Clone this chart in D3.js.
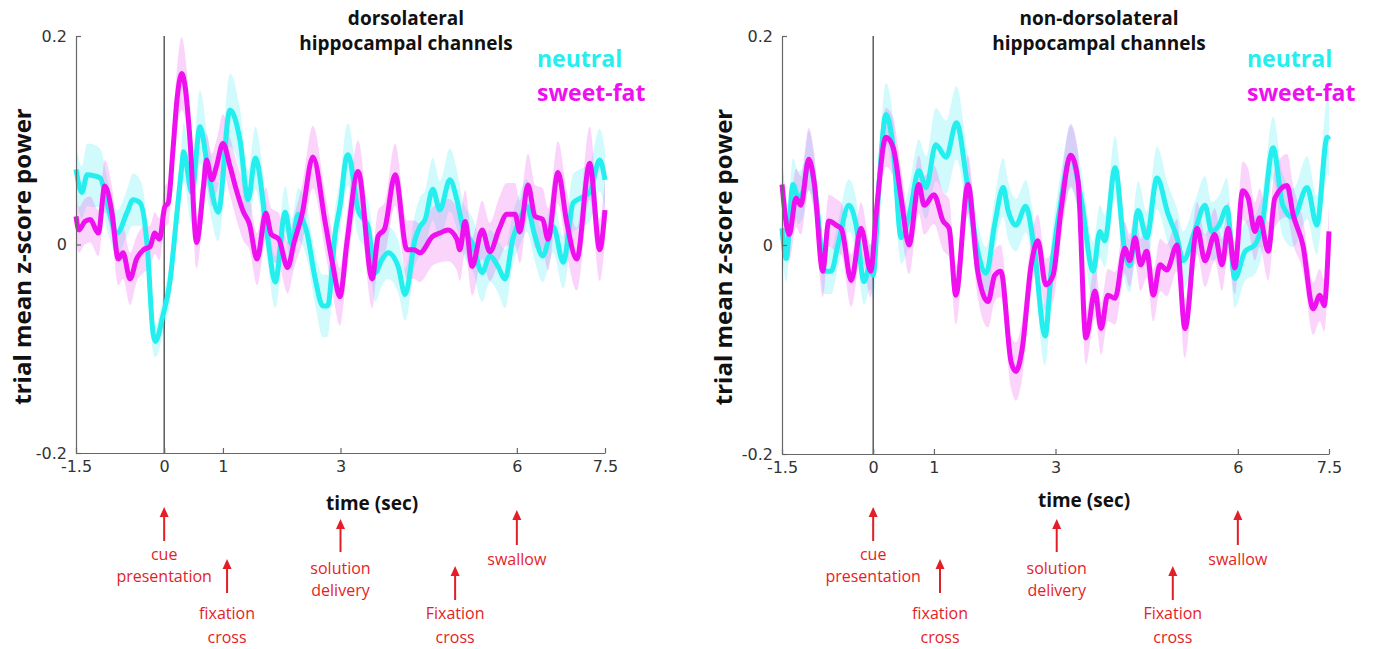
<!DOCTYPE html>
<html><head><meta charset="utf-8">
<script src="https://cdn.jsdelivr.net/npm/d3@7"></script>
<style>body{margin:0;background:#fff;} svg{display:block;}</style>
</head><body>
<svg id="chart" width="1377" height="649"></svg>
<script>
// ---------- data ----------
const xTickValues = [-1.5, 0, 1, 3, 6, 7.5];
const xTickLabels = ["-1.5", "0", "1", "3", "6", "7.5"];
const yTickValues = [-0.2, 0, 0.2];
const yTickLabels = ["-0.2", "0", "0.2"];
const seriesNames = ["neutral", "sweet-fat"];
const panelTitles = [["dorsolateral", "hippocampal channels"], ["non-dorsolateral", "hippocampal channels"]];
const yAxisLabel = "trial mean z-score power";
const xAxisLabel = "time (sec)";
const eventLabels = [["cue", "presentation"], ["fixation", "cross"], ["solution", "delivery"], ["Fixation", "cross"], ["swallow"]];
const eventTimesLeft = [0, 1.07, 3, 4.95, 6];
const eventTimesRight = [0, 1.10, 3.02, 4.93, 6];

// [time (s), mean z-score power, sem]
const leftNeutral = [
  [-1.50,0.072,0.025],[-1.40,0.050,0.025],[-1.31,0.067,0.030],[-1.20,0.066,0.030],[-1.09,0.064,0.028],
  [-0.95,0.035,0.025],[-0.80,0.011,0.022],[-0.63,0.031,0.022],[-0.53,0.043,0.025],[-0.41,0.040,0.022],
  [-0.29,0.000,0.020],[-0.19,-0.085,0.018],[-0.15,-0.093,0.015],[-0.02,-0.068,0.018],[0.10,-0.035,0.020],
  [0.20,0.020,0.022],[0.30,0.075,0.025],[0.33,0.089,0.028],[0.47,0.050,0.030],[0.61,0.113,0.035],
  [0.75,0.070,0.030],[0.92,0.031,0.028],[1.12,0.129,0.035],[1.29,0.100,0.030],[1.43,0.043,0.028],
  [1.55,0.083,0.030],[1.75,0.011,0.025],[1.89,-0.036,0.025],[2.06,0.031,0.025],[2.17,0.000,0.025],
  [2.28,0.029,0.025],[2.43,0.011,0.025],[2.57,-0.033,0.025],[2.70,-0.059,0.030],[2.78,-0.059,0.030],
  [2.91,0.011,0.025],[3.00,0.040,0.025],[3.10,0.084,0.030],[3.13,0.086,0.030],[3.30,0.033,0.025],
  [3.47,0.017,0.025],[3.59,-0.027,0.028],[3.70,-0.015,0.025],[3.81,-0.008,0.025],[3.98,-0.021,0.025],
  [4.10,-0.048,0.025],[4.27,0.005,0.025],[4.35,0.017,0.028],[4.44,0.024,0.028],[4.57,0.053,0.030],
  [4.69,0.033,0.028],[4.86,0.062,0.030],[4.98,0.043,0.028],[5.08,0.017,0.025],[5.25,0.000,0.025],
  [5.41,-0.027,0.028],[5.54,-0.011,0.025],[5.67,-0.020,0.025],[5.80,-0.033,0.028],[5.93,0.005,0.025],
  [6.05,0.024,0.025],[6.17,0.037,0.025],[6.30,0.010,0.025],[6.44,-0.011,0.025],[6.62,0.017,0.025],
  [6.79,-0.017,0.025],[6.96,0.040,0.028],[7.10,0.045,0.028],[7.24,0.050,0.028],[7.41,0.081,0.030],
  [7.50,0.062,0.028]
];
const leftSweetFat = [
  [-1.50,0.027,0.022],[-1.45,0.014,0.022],[-1.35,0.022,0.022],[-1.26,0.024,0.022],[-1.12,0.011,0.022],
  [-1.01,0.056,0.025],[-0.89,0.031,0.025],[-0.78,-0.014,0.025],[-0.70,-0.008,0.025],[-0.58,-0.033,0.025],
  [-0.47,-0.014,0.022],[-0.35,-0.005,0.022],[-0.24,-0.002,0.020],[-0.16,0.011,0.020],[-0.08,0.005,0.020],
  [0.01,0.036,0.020],[0.07,0.040,0.020],[0.15,0.091,0.025],[0.22,0.140,0.030],[0.30,0.164,0.035],
  [0.36,0.150,0.030],[0.44,0.100,0.028],[0.55,0.002,0.025],[0.67,0.056,0.025],[0.72,0.081,0.025],
  [0.81,0.062,0.025],[0.89,0.075,0.025],[1.00,0.097,0.028],[1.12,0.075,0.028],[1.24,0.050,0.028],
  [1.35,0.031,0.028],[1.45,0.020,0.025],[1.58,-0.014,0.025],[1.73,0.030,0.025],[1.82,0.010,0.025],
  [1.95,0.005,0.025],[2.10,-0.022,0.025],[2.21,0.002,0.025],[2.35,0.030,0.028],[2.53,0.084,0.030],
  [2.74,0.021,0.028],[2.87,-0.020,0.028],[2.99,-0.050,0.028],[3.11,0.002,0.028],[3.30,0.070,0.030],
  [3.54,-0.033,0.028],[3.64,0.008,0.025],[3.75,0.015,0.025],[3.93,0.067,0.030],[4.13,-0.005,0.028],
  [4.25,-0.005,0.028],[4.35,-0.008,0.028],[4.57,0.008,0.028],[4.69,0.011,0.028],[4.83,0.014,0.030],
  [4.98,0.005,0.030],[5.03,-0.005,0.030],[5.12,0.022,0.030],[5.24,-0.021,0.028],[5.41,0.014,0.028],
  [5.54,-0.007,0.028],[5.70,0.015,0.030],[5.83,0.029,0.030],[5.97,0.029,0.030],[6.05,0.012,0.030],
  [6.19,0.057,0.030],[6.31,0.027,0.030],[6.44,0.024,0.030],[6.53,0.005,0.030],[6.70,0.069,0.030],
  [6.85,0.021,0.030],[7.02,-0.014,0.030],[7.24,0.078,0.035],[7.41,-0.005,0.030],[7.50,0.033,0.030]
];
const rightNeutral = [
  [-1.50,0.016,0.022],[-1.43,-0.013,0.022],[-1.32,0.058,0.025],[-1.23,0.045,0.025],[-1.15,0.052,0.025],
  [-1.06,0.081,0.028],[-0.91,0.029,0.025],[-0.81,-0.025,0.022],[-0.69,-0.025,0.022],[-0.58,0.000,0.022],
  [-0.40,0.038,0.025],[-0.28,0.019,0.025],[-0.15,-0.035,0.022],[-0.05,-0.020,0.022],[0.00,-0.029,0.022],
  [0.10,0.062,0.025],[0.21,0.125,0.030],[0.33,0.093,0.028],[0.46,0.007,0.025],[0.60,0.030,0.028],
  [0.75,0.071,0.030],[0.87,0.055,0.030],[1.03,0.096,0.035],[1.20,0.084,0.035],[1.37,0.117,0.035],
  [1.54,0.062,0.030],[1.71,-0.003,0.028],[1.86,-0.027,0.025],[2.00,0.020,0.025],[2.14,0.055,0.028],
  [2.22,0.033,0.028],[2.35,0.019,0.025],[2.51,0.037,0.025],[2.65,-0.004,0.025],[2.83,-0.087,0.028],
  [2.93,-0.025,0.028],[3.09,0.042,0.028],[3.25,0.084,0.030],[3.42,0.045,0.028],[3.62,-0.025,0.028],
  [3.73,0.013,0.025],[3.81,0.004,0.025],[3.98,0.074,0.030],[4.14,-0.006,0.028],[4.22,-0.020,0.025],
  [4.36,0.033,0.028],[4.50,0.007,0.025],[4.67,0.064,0.030],[4.85,0.030,0.028],[5.00,0.007,0.028],
  [5.10,-0.015,0.028],[5.30,0.015,0.028],[5.46,0.038,0.028],[5.57,0.013,0.028],[5.70,0.020,0.028],
  [5.82,0.036,0.028],[5.95,-0.032,0.028],[6.12,-0.006,0.028],[6.28,0.000,0.028],[6.40,0.020,0.028],
  [6.58,0.093,0.030],[6.74,0.038,0.030],[6.91,0.026,0.028],[7.14,0.055,0.030],[7.30,0.019,0.028],
  [7.47,0.103,0.035],[7.50,0.101,0.035]
];
const rightSweetFat = [
  [-1.50,0.058,0.025],[-1.38,0.010,0.025],[-1.27,0.045,0.028],[-1.19,0.038,0.028],[-1.06,0.082,0.030],
  [-0.97,0.060,0.028],[-0.83,-0.025,0.025],[-0.73,0.023,0.025],[-0.61,0.019,0.025],[-0.52,0.015,0.025],
  [-0.36,-0.034,0.025],[-0.20,0.016,0.025],[-0.04,-0.025,0.025],[0.05,0.030,0.025],[0.21,0.103,0.028],
  [0.33,0.093,0.028],[0.46,0.045,0.028],[0.59,0.000,0.028],[0.75,0.058,0.028],[0.84,0.038,0.028],
  [1.00,0.048,0.028],[1.15,0.023,0.028],[1.25,0.016,0.028],[1.36,-0.048,0.028],[1.56,0.058,0.028],
  [1.72,-0.025,0.025],[1.89,-0.054,0.025],[2.00,-0.029,0.025],[2.10,-0.025,0.025],[2.27,-0.112,0.025],
  [2.35,-0.121,0.028],[2.45,-0.100,0.028],[2.60,-0.019,0.025],[2.71,0.004,0.025],[2.84,-0.038,0.025],
  [2.96,-0.029,0.025],[3.09,0.033,0.028],[3.25,0.086,0.030],[3.37,0.062,0.028],[3.50,-0.089,0.025],
  [3.65,-0.044,0.025],[3.75,-0.080,0.025],[3.86,-0.048,0.025],[3.98,-0.051,0.025],[4.14,-0.003,0.025],
  [4.22,-0.015,0.025],[4.31,0.007,0.025],[4.40,-0.019,0.025],[4.50,-0.006,0.025],[4.61,-0.048,0.025],
  [4.72,-0.019,0.025],[4.83,-0.024,0.025],[5.00,0.000,0.025],[5.13,-0.080,0.028],[5.33,0.016,0.025],
  [5.46,-0.015,0.025],[5.62,0.010,0.025],[5.74,-0.019,0.025],[5.84,0.016,0.025],[5.95,-0.022,0.025],
  [6.08,0.052,0.028],[6.17,0.045,0.028],[6.28,0.013,0.028],[6.36,0.026,0.028],[6.50,-0.006,0.028],
  [6.61,0.045,0.028],[6.81,0.057,0.030],[6.91,0.029,0.028],[7.07,0.000,0.025],[7.24,-0.061,0.025],
  [7.35,-0.048,0.025],[7.42,-0.058,0.025],[7.50,0.013,0.025]
];

// ---------- styling / layout ----------
const colors = {neutral: "#24eeee", sweet: "#ee10ee",
  neutralBand: "rgba(40,230,240,0.22)", sweetBand: "rgba(235,60,235,0.22)", red: "#e41e26"};
const panels = [
  {left: 76, right: 605, top: 36, bottom: 453, titleX: 406, legendX: 537, ylabX: 21,
   xlabX: 372, xlabY: 510, series: [leftNeutral, leftSweetFat], events: eventTimesLeft, title: panelTitles[0]},
  {left: 782, right: 1329, top: 36, bottom: 454, titleX: 1099, legendX: 1247, ylabX: 722,
   xlabX: 1084, xlabY: 507, series: [rightNeutral, rightSweetFat], events: eventTimesRight, title: panelTitles[1]}
];
const eventLayout = [
  {head: 507, tail: 541, text: 560, gap: 22},
  {head: 559, tail: 593, text: 619, gap: 24},
  {head: 519, tail: 552, text: 574, gap: 22},
  {head: 566, tail: 600, text: 619, gap: 24},
  {head: 510, tail: 545, text: 565, gap: 22}
];

const svg = d3.select("#chart");
const boldFont = "'Open Sans', 'Noto Sans', sans-serif";

panels.forEach((p, pi) => {
  const x = d3.scaleLinear().domain([-1.5, 7.5]).range([p.left, p.right]);
  const y = d3.scaleLinear().domain([-0.2, 0.2]).range([p.bottom, p.top]);
  const g = svg.append("g");

  const area = d3.area().x(d => x(d[0])).y0(d => y(d[1] - d[2])).y1(d => y(d[1] + d[2])).curve(d3.curveMonotoneX);
  const line = d3.line().x(d => x(d[0])).y(d => y(d[1])).curve(d3.curveMonotoneX);
  g.append("path").datum(p.series[0]).attr("d", area).attr("fill", colors.neutralBand);
  g.append("path").datum(p.series[1]).attr("d", area).attr("fill", colors.sweetBand);

  g.append("line").attr("x1", x(0)).attr("x2", x(0)).attr("y1", y(0.2)).attr("y2", y(-0.2))
    .attr("stroke", "#333").attr("stroke-width", 1.2);

  g.append("path").datum(p.series[0]).attr("d", line).attr("fill", "none")
    .attr("stroke", colors.neutral).attr("stroke-width", 5).attr("stroke-linejoin", "round");
  g.append("path").datum(p.series[1]).attr("d", line).attr("fill", "none")
    .attr("stroke", colors.sweet).attr("stroke-width", 5).attr("stroke-linejoin", "round");

  const xAxis = d3.axisBottom(x).tickValues(xTickValues)
    .tickFormat((d, i) => xTickLabels[i]).tickSizeInner(-5).tickSizeOuter(0).tickPadding(8);
  const yAxis = d3.axisLeft(y).tickValues(yTickValues)
    .tickFormat((d, i) => yTickLabels[i]).tickSizeInner(-5).tickSizeOuter(0).tickPadding(9);
  const gx = g.append("g").attr("transform", `translate(0,${p.bottom})`).call(xAxis);
  const gy = g.append("g").attr("transform", `translate(${p.left},0)`).call(yAxis);
  [gx, gy].forEach(a => {
    a.selectAll("path.domain").attr("stroke", "#666").attr("stroke-width", 1.2);
    a.selectAll(".tick line").attr("stroke", "#666").attr("stroke-width", 1.2);
    a.selectAll(".tick text").attr("font-family", "'DejaVu Sans', sans-serif")
      .attr("font-size", 16).attr("fill", "#333");
  });

  p.title.forEach((t, i) => {
    g.append("text").attr("x", p.titleX).attr("y", 25 + i * 25).attr("text-anchor", "middle")
      .attr("font-family", boldFont).attr("font-weight", 700).attr("font-size", 19).attr("fill", "#111").text(t);
  });
  g.append("text").attr("x", p.legendX).attr("y", 67).attr("font-family", boldFont).attr("font-weight", 700)
    .attr("font-size", 23).attr("fill", colors.neutral).text(seriesNames[0]);
  g.append("text").attr("x", p.legendX).attr("y", 101).attr("font-family", boldFont).attr("font-weight", 700)
    .attr("font-size", 23).attr("fill", colors.sweet).text(seriesNames[1]);

  g.append("text").attr("transform", `translate(${p.ylabX},${(p.top + p.bottom) / 2 + 12}) rotate(-90)`)
    .attr("text-anchor", "middle").attr("dominant-baseline", "central")
    .attr("font-family", boldFont).attr("font-weight", 700).attr("font-size", 24).attr("fill", "#111").text(yAxisLabel);
  g.append("text").attr("x", p.xlabX).attr("y", p.xlabY).attr("text-anchor", "middle")
    .attr("font-family", boldFont).attr("font-weight", 700).attr("font-size", 19).attr("fill", "#111").text(xAxisLabel);

  p.events.forEach((t, i) => {
    const L = eventLayout[i];
    const ex = x(t);
    g.append("line").attr("x1", ex).attr("x2", ex).attr("y1", L.tail).attr("y2", L.head + 8)
      .attr("stroke", colors.red).attr("stroke-width", 2);
    g.append("path").attr("d", `M${ex},${L.head} L${ex - 4.5},${L.head + 10} L${ex + 4.5},${L.head + 10} Z`)
      .attr("fill", colors.red);
    eventLabels[i].forEach((s, j) => {
      g.append("text").attr("x", ex).attr("y", L.text + j * L.gap).attr("text-anchor", "middle")
        .attr("font-family", "'Open Sans', sans-serif").attr("font-size", 16).attr("fill", colors.red).text(s);
    });
  });
});
</script>
</body></html>
